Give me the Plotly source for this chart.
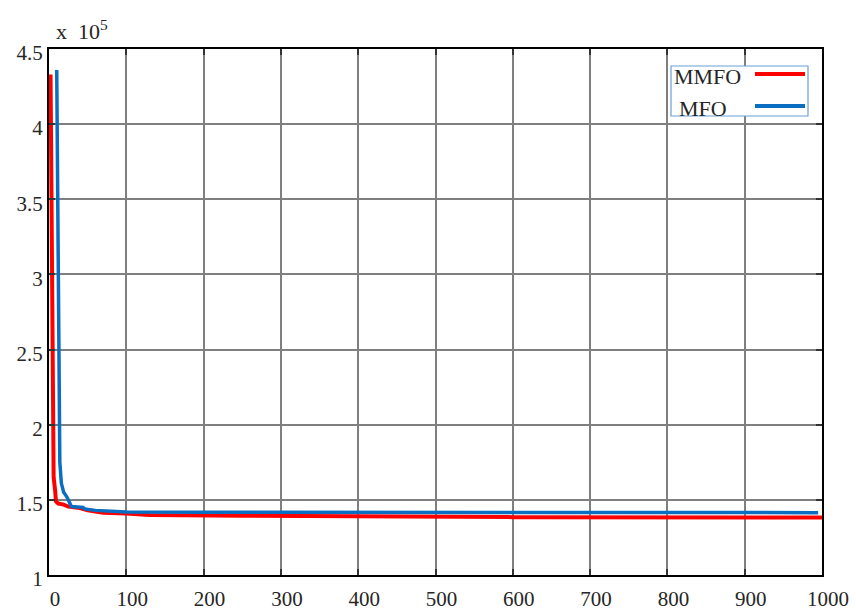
import plotly.graph_objects as go

# Convergence curves (fitness value vs. iteration)
mmfo_iter = [2, 4, 5, 6, 8, 9, 12, 18, 25, 40, 50, 70, 100, 125, 130, 250, 400, 600, 1000]
mmfo_cost = [433000, 250000, 190000, 165000, 156000, 149000, 147500, 147000, 145500,
             144500, 143000, 141500, 141000, 140500, 140000, 139500, 139000, 138500, 138300]

mfo_iter = [10, 11, 12, 13, 14, 16, 19, 23, 27, 29, 44, 46, 60, 100, 200, 400, 995]
mfo_cost = [436000, 350000, 250000, 181000, 175000, 161000, 155000, 152000, 147000,
            145500, 145000, 144000, 143000, 142000, 141800, 141600, 141500]

y_ticks = [100000, 150000, 200000, 250000, 300000, 350000, 400000, 450000]
y_labels = ["1", "1.5", "2", "2.5", "3", "3.5", "4", "4.5"]
x_ticks = [0, 100, 200, 300, 400, 500, 600, 700, 800, 900, 1000]

FONT = "Liberation Serif"
TXT = "#262626"

fig = go.Figure()
fig.add_trace(go.Scatter(x=mmfo_iter, y=mmfo_cost, mode="lines", name="MMFO",
                         line=dict(color="#ff0000", width=4), showlegend=False))
fig.add_trace(go.Scatter(x=mfo_iter, y=mfo_cost, mode="lines", name="MFO",
                         line=dict(color="#0a6fc2", width=3.5), showlegend=False))

axis_common = dict(showline=True, linecolor="#000000", linewidth=2, mirror="ticks",
                   ticks="inside", ticklen=6, tickwidth=2, tickcolor="#333333",
                   showgrid=True, gridcolor="#7f7f7f", gridwidth=1.5, zeroline=False,
                   automargin=False,
                   tickfont=dict(family=FONT, size=21, color=TXT))

fig.update_xaxes(range=[0, 1000], tickvals=x_ticks, ticklabelstandoff=4,
                 ticklabelshift=6, **axis_common)
fig.update_yaxes(range=[100000, 450000], tickvals=y_ticks, ticktext=y_labels,
                 ticklabelshift=4, **axis_common)

# Exponent note above the y axis
fig.add_annotation(x=(54 - 49) / 773, y=(575 - 46) / 526, xref="paper", yref="paper",
                   xanchor="left", yanchor="bottom",
                   text="x&nbsp; 10<sup>5</sup>", showarrow=False,
                   font=dict(family=FONT, size=22, color=TXT))

# Legend box (label first, line sample to the right)
fig.add_shape(type="rect", xref="paper", yref="paper",
              x0=(671 - 49) / 773, x1=(808 - 49) / 773,
              y0=(575 - 116) / 526, y1=(575 - 66) / 526,
              line=dict(color="#6a9fd4", width=1.2), fillcolor="white", layer="above")
for label, color, ypx, xtxt in [("MMFO", "#ff0000", 74, 707), ("MFO", "#0a6fc2", 106, 703)]:
    fig.add_shape(type="line", xref="paper", yref="paper",
                  x0=(755 - 49) / 773, x1=(805 - 49) / 773,
                  y0=(575 - ypx) / 526, y1=(575 - ypx) / 526,
                  line=dict(color=color, width=4), layer="above")
    fig.add_annotation(x=(xtxt - 49) / 773, y=(575 - ypx - 2) / 526, xref="paper", yref="paper",
                       text=label, showarrow=False, xanchor="center", yanchor="middle",
                       font=dict(family=FONT, size=22, color=TXT))

fig.update_layout(width=856, height=612, plot_bgcolor="white", paper_bgcolor="white",
                  font=dict(family=FONT, size=21, color=TXT),
                  margin=dict(l=49, r=34, t=49, b=37), showlegend=False)

fig.write_html("out.html")
